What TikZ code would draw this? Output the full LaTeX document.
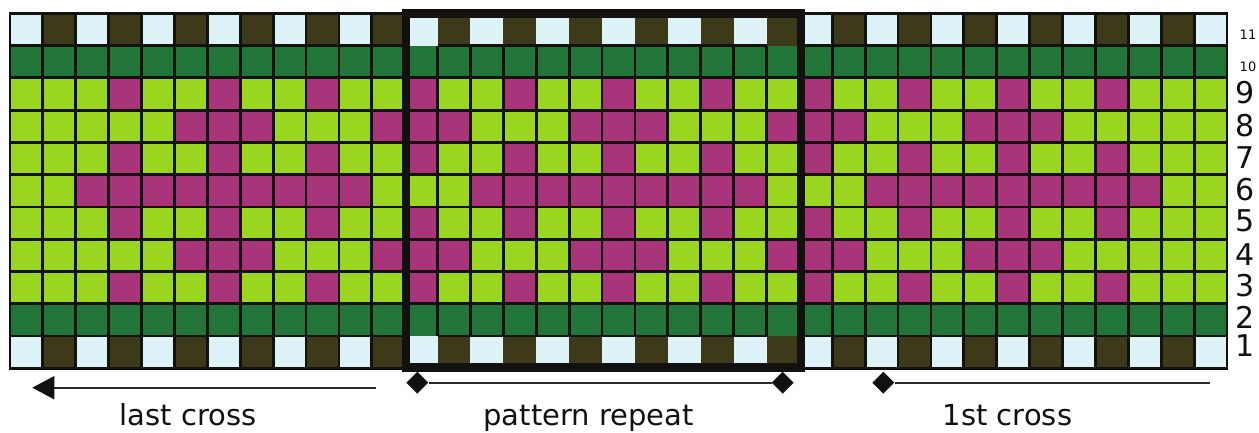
\documentclass[tikz,border=0pt]{standalone}
\usepackage{fontspec}
\setmainfont{DejaVu Sans}
\usetikzlibrary{arrows.meta,shapes.geometric}
\definecolor{lb}{HTML}{DEF3F7}
\definecolor{olive}{HTML}{3D3A1A}
\definecolor{dgreen}{HTML}{217538}
\definecolor{lime}{HTML}{9AD520}
\definecolor{mag}{HTML}{A8347A}
\definecolor{ink}{HTML}{121110}
\definecolor{conn}{HTML}{2A2A2A}
\tikzset{
  gridline/.style={draw=ink, line width=2.8pt},
  frame/.style={draw=ink, line width=8.5pt},
  connline/.style={draw=conn, line width=2pt},
  dia/.style={diamond, fill=ink, draw=none, inner sep=0pt, minimum width=22pt, minimum height=22pt},
  biglbl/.style={anchor=base, inner sep=0pt, text=ink, font=\fontsize{30}{34}\selectfont},
  smalllbl/.style={anchor=base, inner sep=0pt, text=ink, font=\fontsize{13}{15}\selectfont},
  caption/.style={anchor=base, inner sep=0pt, text=ink, font=\fontsize{29}{34}\selectfont}
}
\begin{document}
\begin{tikzpicture}[x=1pt,y=-1pt]
\useasboundingbox (0,0) rectangle (1259,432);
\def\W{32.892}
\def\H{32.273}
% --- rows 1 and 11: alternating light blue / olive
\foreach \r in {1,11}{
  \fill[lb] (10,{13.3+(11-\r)*\H}) rectangle ++(37*\W,\H);
  \foreach \c in {1,3,...,35}{
    \fill[olive] ({10+\c*\W},{13.3+(11-\r)*\H}) rectangle ++(\W,\H);
  }
}
% --- rows 2 and 10: dark green
\foreach \r in {2,10}{
  \fill[dgreen] (10,{13.3+(11-\r)*\H}) rectangle ++(37*\W,\H);
}
% --- rows 3..9: lime background
\fill[lime] (10,{13.3+2*\H}) rectangle ++(37*\W,7*\H);
% rows 3,5,7,9
\foreach \r in {3,5,7,9}{
  \foreach \c in {3,6,...,33}{
    \fill[mag] ({10+\c*\W},{13.3+(11-\r)*\H}) rectangle ++(\W,\H);
  }
}
% rows 4,8
\foreach \r in {4,8}{
  \foreach \c in {5,6,7,11,12,13,17,18,19,23,24,25,29,30,31}{
    \fill[mag] ({10+\c*\W},{13.3+(11-\r)*\H}) rectangle ++(\W,\H);
  }
}
% row 6
\foreach \c in {2,...,10,14,15,16,17,18,19,20,21,22,26,27,28,29,30,31,32,33,34}{
  \fill[mag] ({10+\c*\W},{13.3+5*\H}) rectangle ++(\W,\H);
}
% --- grid lines
\foreach \c in {1,...,11}{
  \draw[gridline] ({10+\c*\W},13.3) -- ({10+\c*\W},368.3);
}
\foreach \c in {25,...,36}{
  \draw[gridline] ({10+\c*\W},13.3) -- ({10+\c*\W},368.3);
}
\foreach \c in {13,...,23}{
  \draw[gridline] ({10+\c*\W},{13.3+\H}) -- ({10+\c*\W},{13.3+10*\H});
}
\foreach \i in {1,...,10}{
  \draw[gridline] (10,{13.3+\i*\H}) -- ({10+12*\W},{13.3+\i*\H});
  \draw[gridline] ({10+24*\W},{13.3+\i*\H}) -- (1227,{13.3+\i*\H});
}
\foreach \i in {2,...,9}{
  \draw[gridline] ({10+12*\W},{13.3+\i*\H}) -- ({10+24*\W},{13.3+\i*\H});
}
\foreach \i in {1,10}{
  \draw[gridline] ({10+13*\W},{13.3+\i*\H}) -- ({10+23*\W},{13.3+\i*\H});
}
\draw[gridline] (10,13.3) rectangle (1227,368.3);
% --- pattern repeat frame
\draw[frame] (406,13.3) rectangle (801,367.5);
% --- row labels
\node[smalllbl] (r11) at (1248,39.3) {11};
\node[smalllbl] (r10) at (1248,71.7) {10};
\node[biglbl] (r9) at (1245,103.3) {9};
\node[biglbl] (r8) at (1245,136.7) {8};
\node[biglbl] (r7) at (1245,168.3) {7};
\node[biglbl] (r6) at (1245,200) {6};
\node[biglbl] (r5) at (1245,231.7) {5};
\node[biglbl] (r4) at (1245,265) {4};
\node[biglbl] (r3) at (1245,296.7) {3};
\node[biglbl] (r2) at (1245,328.3) {2};
\node[biglbl] (r1) at (1245,356.7) {1};
% --- connectors
\coordinate (la1) at (375.7,387.7);
\coordinate (la2) at (32.3,387.7);
\draw[connline, -{Triangle[length=22pt,width=23pt,fill=ink,color=ink]}] (la1) -- (la2);
\node[dia] (pd1) at (417.3,382.7) {};
\node[dia] (pd2) at (782.7,382.7) {};
\draw[connline] (pd1) -- (pd2);
\node[dia] (fd) at (883.3,382.7) {};
\coordinate (fe) at (1210,382.7);
\draw[connline] (fd) -- (fe);
% --- captions
\node[caption] (tlast) at (188,425) {last cross};
\node[caption] (trep) at (588.6,425) {pattern repeat};
\node[caption] (tfirst) at (1007.5,425) {1st cross};
\end{tikzpicture}
\end{document}
